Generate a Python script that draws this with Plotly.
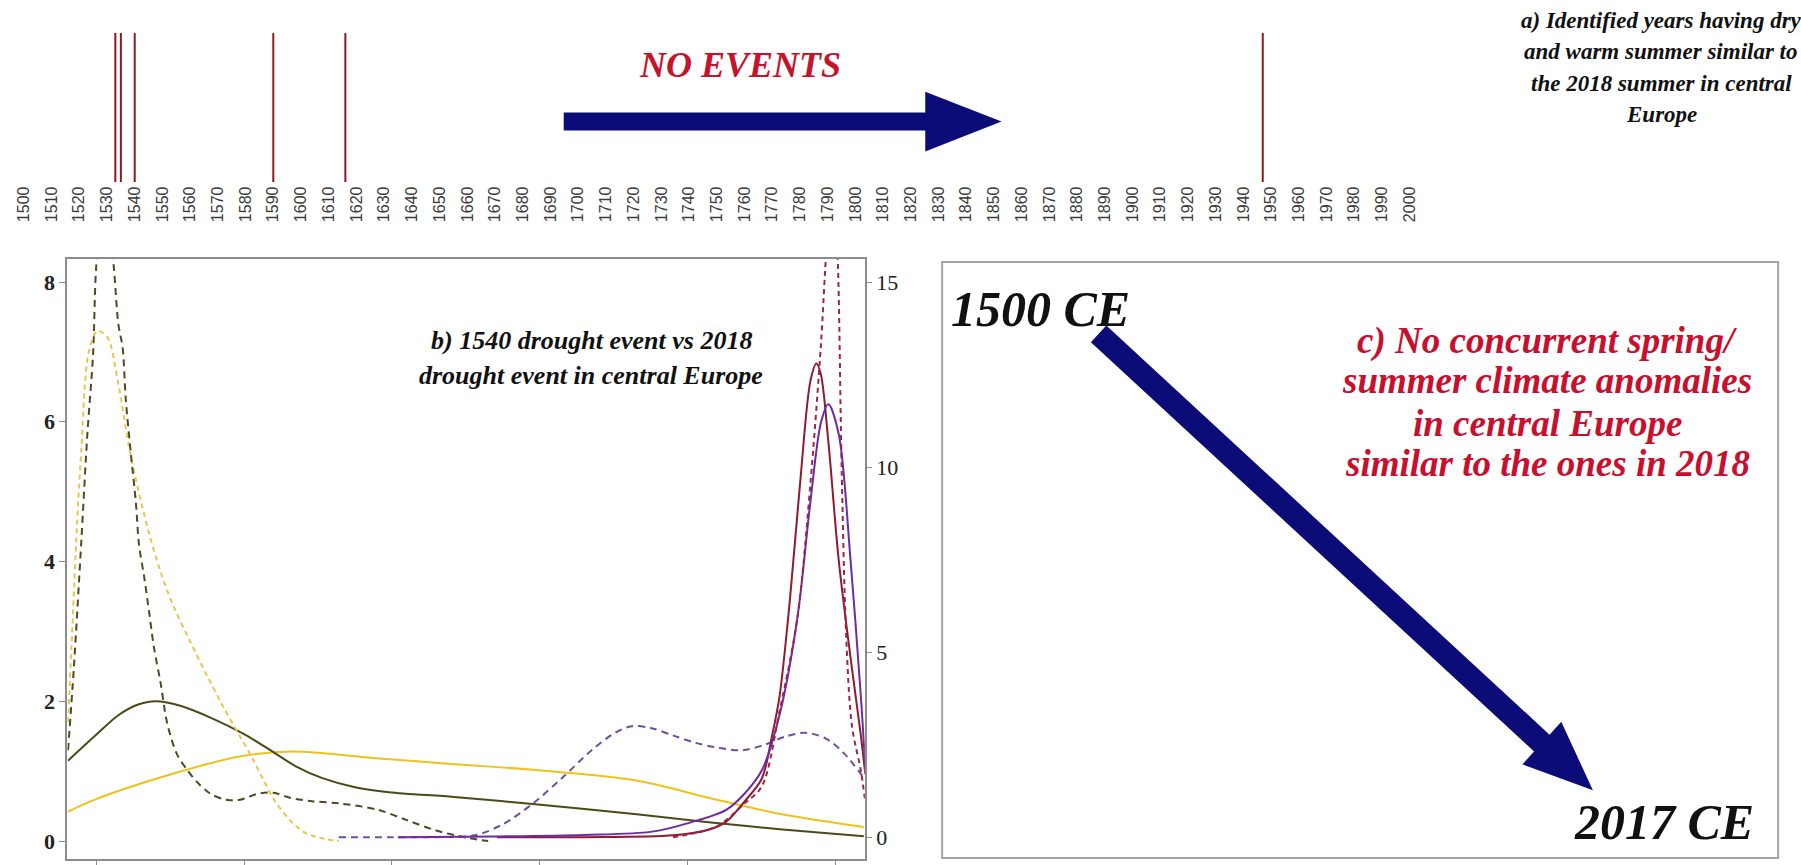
import plotly.graph_objects as go

W, H = 1801, 865

# ---- panel a: years with a dry and warm summer comparable to 2018 ----
event_years = [1533, 1535, 1540, 1590, 1616, 1947]
year_ticks = list(range(1500, 2001, 10))

# ---- panel b: smoothed distributions, 1540 event (left axis) ----
x_olive_dash = [-0.19, -0.15, -0.10, -0.06, -0.02, 0.0, 0.06, 0.12, 0.15, 0.179, 0.20, 0.235,
                0.268, 0.29, 0.324, 0.358, 0.391, 0.436, 0.48, 0.547, 0.615, 0.68, 0.77, 0.88,
                0.97, 1.10, 1.20, 1.31, 1.46, 1.64, 1.90, 2.10, 2.30, 2.50, 2.65]
y_olive_dash = [1.3, 2.5, 4.3, 5.8, 7.0, 8.2, 9.4, 8.2, 7.4, 7.06, 6.33, 5.54,
                4.86, 4.24, 3.79, 3.28, 2.77, 2.26, 1.69, 1.24, 1.02, 0.85, 0.68, 0.59,
                0.59, 0.68, 0.69, 0.62, 0.57, 0.54, 0.45, 0.3, 0.15, 0.05, 0.0]

x_yellow_dash = [-0.19, -0.16, -0.13, -0.10, -0.05, 0.01, 0.078, 0.145, 0.235, 0.346, 0.436,
                 0.525, 0.637, 0.749, 0.86, 0.972, 1.06, 1.13, 1.20, 1.31, 1.42, 1.55, 1.64]
y_yellow_dash = [1.7, 3.1, 4.5, 5.6, 7.0, 7.3, 7.2, 6.6, 5.5, 4.5, 3.85,
                 3.35, 2.85, 2.37, 1.92, 1.5, 1.17, 0.88, 0.6, 0.3, 0.11, 0.03, 0.0]

x_olive = [-0.19, 0.0, 0.15, 0.28, 0.40, 0.58, 0.78, 1.0, 1.20, 1.35, 1.53, 1.75, 1.98,
           2.42, 2.95, 3.67, 4.14, 4.62, 5.19]
y_olive = [1.15, 1.52, 1.8, 1.95, 2.0, 1.93, 1.76, 1.53, 1.27, 1.07, 0.9, 0.77, 0.7,
           0.63, 0.53, 0.38, 0.27, 0.17, 0.07]

x_yellow = [-0.19, 0.0, 0.53, 0.97, 1.33, 1.87, 2.42, 2.95, 3.67, 4.14, 4.62, 5.19]
y_yellow = [0.42, 0.6, 0.97, 1.21, 1.28, 1.19, 1.1, 1.02, 0.86, 0.62, 0.39, 0.2]

# ---- panel b: 2018 event (right axis) ----
x_purple_dash = [1.64, 2.0, 2.3, 2.56, 2.75, 2.95, 3.15, 3.35, 3.5, 3.62, 3.75, 3.9, 4.05,
                 4.2, 4.37, 4.52, 4.66, 4.8, 4.94, 5.06, 5.19]
y_purple_dash = [0.0, 0.0, 0.0, 0.05, 0.35, 0.9, 1.6, 2.35, 2.8, 3.0, 2.95, 2.75, 2.55,
                 2.42, 2.35, 2.5, 2.72, 2.82, 2.65, 2.25, 1.6]

x_red = [2.71, 3.3, 3.9, 4.14, 4.26, 4.38, 4.5, 4.57, 4.62, 4.69, 4.76, 4.83, 4.87, 4.9,
         4.95, 5.02, 5.1, 5.17, 5.2]
y_red = [0.0, 0.0, 0.05, 0.2, 0.42, 0.95, 1.58, 2.75, 3.8, 6.4, 9.6, 12.35, 12.8, 12.5,
         10.7, 7.5, 4.86, 2.75, 1.7]

x_purple = [2.04, 2.7, 3.3, 3.76, 4.02, 4.26, 4.38, 4.5, 4.62, 4.74, 4.83, 4.9, 4.95, 5.02,
            5.1, 5.17, 5.2]
y_purple = [0.0, 0.02, 0.06, 0.15, 0.4, 0.74, 1.16, 1.8, 3.3, 5.9, 9.1, 11.2, 11.7, 10.9,
            7.5, 3.8, 1.9]

x_red_dash = [3.9, 4.2, 4.38, 4.5, 4.62, 4.74, 4.83, 4.9, 4.94, 4.98, 5.01, 5.04, 5.07,
              5.11, 5.17, 5.2]
y_red_dash = [0.0, 0.3, 0.9, 1.37, 3.4, 5.9, 9.6, 13.3, 16.0, 17.5, 16.0, 10.0, 5.5,
              3.0, 1.8, 0.95]

SERIF = "Liberation Serif"


def px(x):
    return x / W


def py(y):
    return 1 - y / H


fig = go.Figure()

# event markers as vertical strokes
ev_x, ev_y = [], []
for yr in event_years:
    ev_x += [yr, yr, None]
    ev_y += [0, 1, None]
fig.add_trace(go.Scatter(x=ev_x, y=ev_y, mode="lines", xaxis="x2", yaxis="y3",
                         line=dict(color="#8b1a22", width=2), showlegend=False,
                         hoverinfo="skip"))


def curve(x, y, color, dash, axis):
    fig.add_trace(go.Scatter(x=x, y=y, mode="lines", xaxis="x", yaxis=axis,
                             line=dict(color=color, width=2, dash=dash,
                                       shape="spline", smoothing=0.9),
                             showlegend=False, hoverinfo="skip"))


curve(x_yellow, y_yellow, "#efc21a", "solid", "y")
curve(x_olive, y_olive, "#4a4a16", "solid", "y")
curve(x_yellow_dash, y_yellow_dash, "#e6c64c", "5px,4px", "y")
curve(x_olive_dash, y_olive_dash, "#4e4a22", "7px,5px", "y")
curve(x_purple_dash, y_purple_dash, "#6e4e9e", "7px,5px", "y2")
curve(x_red, y_red, "#8e1b2e", "solid", "y2")
curve(x_purple, y_purple, "#6a2ca6", "solid", "y2")
curve(x_red_dash, y_red_dash, "#9a2547", "5px,4px", "y2")

frame = "#8c8c8c"
fig.update_layout(
    width=W, height=H,
    margin=dict(l=0, r=0, t=0, b=0),
    paper_bgcolor="white", plot_bgcolor="white",
    showlegend=False,
    xaxis=dict(domain=[px(59), px(864)], range=[-0.194, 5.197], anchor="y",
               showline=True, mirror=True, linecolor=frame, linewidth=2,
               ticks="outside", tickvals=[0, 1, 2, 3, 4, 5], ticklen=6,
               tickcolor=frame, showticklabels=False, showgrid=False, zeroline=False),
    yaxis=dict(domain=[py(862), py(260)], range=[-0.257, 8.328], anchor="x",
               showline=True, mirror=True, linecolor=frame, linewidth=2,
               ticks="outside", tickvals=[0, 2, 4, 6, 8], ticklen=6, tickcolor=frame,
               tickfont=dict(family=SERIF, size=22, color="#222", weight="bold"),
               showgrid=False, zeroline=False),
    yaxis2=dict(overlaying="y", side="right", anchor="x", range=[-0.59, 15.62],
                showline=False, ticks="outside", tickvals=[0, 5, 10, 15], ticklen=6,
                tickcolor=frame,
                tickfont=dict(family=SERIF, size=22, color="#222"),
                showgrid=False, zeroline=False),
    xaxis2=dict(domain=[px(15), px(1414)], range=[1500, 2000], anchor="y3",
                tickvals=year_ticks, tickangle=-90, ticks="",
                tickfont=dict(family="Liberation Sans", size=16, color="#3a3a3a"),
                showline=False, showgrid=False, zeroline=False),
    yaxis3=dict(domain=[py(183), py(33)], range=[0, 1], anchor="x2", visible=False),
)


def arrow_path(x0, y0, x1, y1, shaft, head_w, head_len):
    dx, dy = x1 - x0, y1 - y0
    L = (dx * dx + dy * dy) ** 0.5
    ux, uy = dx / L, dy / L
    nx, ny = -uy, ux
    bx, by = x1 - ux * head_len, y1 - uy * head_len
    pts = [
        (x0 + nx * shaft / 2, y0 + ny * shaft / 2),
        (bx + nx * shaft / 2, by + ny * shaft / 2),
        (bx + nx * head_w / 2, by + ny * head_w / 2),
        (x1, y1),
        (bx - nx * head_w / 2, by - ny * head_w / 2),
        (bx - nx * shaft / 2, by - ny * shaft / 2),
        (x0 - nx * shaft / 2, y0 - ny * shaft / 2),
    ]
    return "M " + " L ".join(f"{px(a):.5f},{py(b):.5f}" for a, b in pts) + " Z"


navy = "#0c0c78"
shapes = [
    dict(type="path", xref="paper", yref="paper",
         path=arrow_path(560, 122, 1002, 122, 18, 60, 77),
         fillcolor=navy, line=dict(width=0)),
    dict(type="rect", xref="paper", yref="paper", x0=px(942), x1=px(1786),
         y0=py(861), y1=py(263), line=dict(color="#a3a3a3", width=2)),
    dict(type="path", xref="paper", yref="paper",
         path=arrow_path(1100, 335, 1599, 793, 23, 58, 70),
         fillcolor=navy, line=dict(width=0)),
]
fig.update_layout(shapes=shapes)


def label(text, x, y, size, color="#111"):
    fig.add_annotation(text=text, x=px(x), y=py(y), xref="paper", yref="paper",
                       xanchor="center", yanchor="middle", showarrow=False,
                       font=dict(family=SERIF, size=size, color=color,
                                 weight="bold", style="italic"))


red = "#c4142c"
label("NO EVENTS", 738, 65, 36, red)

for t, yy in zip(["a) Identified years having dry", "and warm summer similar to",
                  "the 2018 summer in central", "Europe"], [21, 52, 84, 115]):
    label(t, 1668, yy, 23)

for t, yy in zip(["b) 1540 drought event vs 2018", "drought event in central Europe"],
                 [342, 377]):
    label(t, 588, yy, 26)

label("1500 CE", 1041, 310, 50)
label("2017 CE", 1671, 825, 50)

for t, yy in zip(["c) No concurrent spring/", "summer climate anomalies",
                  "in central Europe", "similar to the ones in 2018"],
                 [342, 382, 425, 465]):
    label(t, 1553, yy, 37, "#c8102e")

fig.write_html("out.html")
